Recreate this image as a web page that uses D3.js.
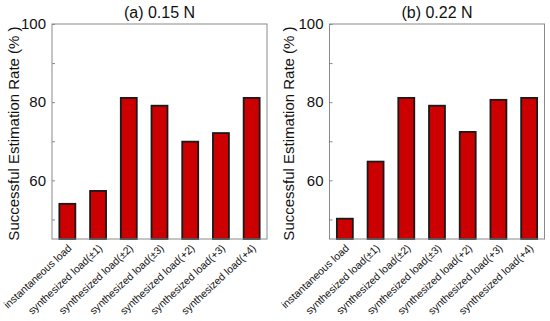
<!DOCTYPE html>
<html>
<head>
<meta charset="utf-8">
<script src="https://cdn.jsdelivr.net/npm/d3@7"></script>
<style>
  html, body { margin: 0; padding: 0; background: #fff; }
  svg { display: block; font-family: "Liberation Sans", Arial, sans-serif; }
</style>
</head>
<body>
<svg id="chart" width="550" height="321"></svg>
<script>
const categories = [
  "instantaneous load",
  "synthesized load(\u00b11)",
  "synthesized load(\u00b12)",
  "synthesized load(\u00b13)",
  "synthesized load(+2)",
  "synthesized load(+3)",
  "synthesized load(+4)"
];
const valuesA = [54.0, 57.3, 81.1, 79.1, 69.9, 72.1, 81.1];
const valuesB = [50.2, 64.8, 81.1, 79.1, 72.4, 80.6, 81.1];
const titles = ["(a) 0.15 N", "(b) 0.22 N"];
const majorTicks = [60, 80, 100];
const minorTicks = [50, 70, 90];
const yLabel = "Successful Estimation Rate (% )";

const svg = d3.select("#chart");
const panels = [
  { title: titles[0], values: valuesA, left: 52, right: 267, labelX: 14 },
  { title: titles[1], values: valuesB, left: 329.5, right: 544.5, labelX: 289 }
];
const plotTop = 24, plotBottom = 239;
const frameColor = "#8a8a8a";

panels.forEach(p => {
  const g = svg.append("g");
  const x = d3.scaleBand().domain(categories).range([p.left, p.right]).paddingInner(0.48).paddingOuter(0.24);
  const y = d3.scaleLinear().domain([45, 100]).range([plotBottom, plotTop]);

  // bars
  g.selectAll("rect.bar").data(p.values).join("rect")
    .attr("class", "bar")
    .attr("x", (d, i) => x(categories[i]))
    .attr("width", x.bandwidth())
    .attr("y", d => y(d))
    .attr("height", d => plotBottom - y(d))
    .attr("fill", "#cc0000")
    .attr("stroke", "#1a1a1a")
    .attr("stroke-width", 1.8);

  // frame
  g.append("rect")
    .attr("x", p.left).attr("y", plotTop)
    .attr("width", p.right - p.left).attr("height", plotBottom - plotTop)
    .attr("fill", "none").attr("stroke", frameColor).attr("stroke-width", 1);

  // y axis ticks (inward)
  const yAxis = d3.axisLeft(y).tickValues(majorTicks).tickSize(-3).tickPadding(6).tickFormat(d3.format("d"));
  const ya = g.append("g").attr("transform", `translate(${p.left},0)`).call(yAxis);
  ya.select(".domain").remove();
  ya.selectAll(".tick line").attr("stroke", frameColor);
  ya.selectAll(".tick text").attr("font-size", 15).attr("fill", "#111")
    .attr("font-family", "Liberation Sans, Arial, sans-serif");

  const yMinor = d3.axisLeft(y).tickValues(minorTicks).tickSize(-3).tickFormat("");
  const ym = g.append("g").attr("transform", `translate(${p.left},0)`).call(yMinor);
  ym.select(".domain").remove();
  ym.selectAll(".tick line").attr("stroke", frameColor);

  // x labels
  const xAxis = d3.axisBottom(x).tickSize(0).tickPadding(0);
  const xa = g.append("g").attr("transform", `translate(0,${plotBottom})`).call(xAxis);
  xa.select(".domain").remove();
  xa.selectAll(".tick text")
    .attr("font-size", 10.5)
    .attr("fill", "#111")
    .attr("font-family", "Liberation Sans, Arial, sans-serif")
    .attr("text-anchor", "end")
    .attr("dy", 0)
    .attr("y", 0)
    .attr("transform", "translate(5,10) rotate(-43)");

  // title
  g.append("text")
    .attr("x", (p.left + p.right) / 2).attr("y", 18)
    .attr("text-anchor", "middle")
    .attr("font-size", 16)
    .attr("fill", "#111")
    .text(p.title);

  // y label
  g.append("text")
    .attr("transform", `translate(${p.labelX},${(plotTop + plotBottom) / 2 + 2}) rotate(-90)`)
    .attr("text-anchor", "middle")
    .attr("dy", "0.35em")
    .attr("font-size", 15)
    .attr("fill", "#111")
    .text(yLabel);
});
</script>
</body>
</html>
